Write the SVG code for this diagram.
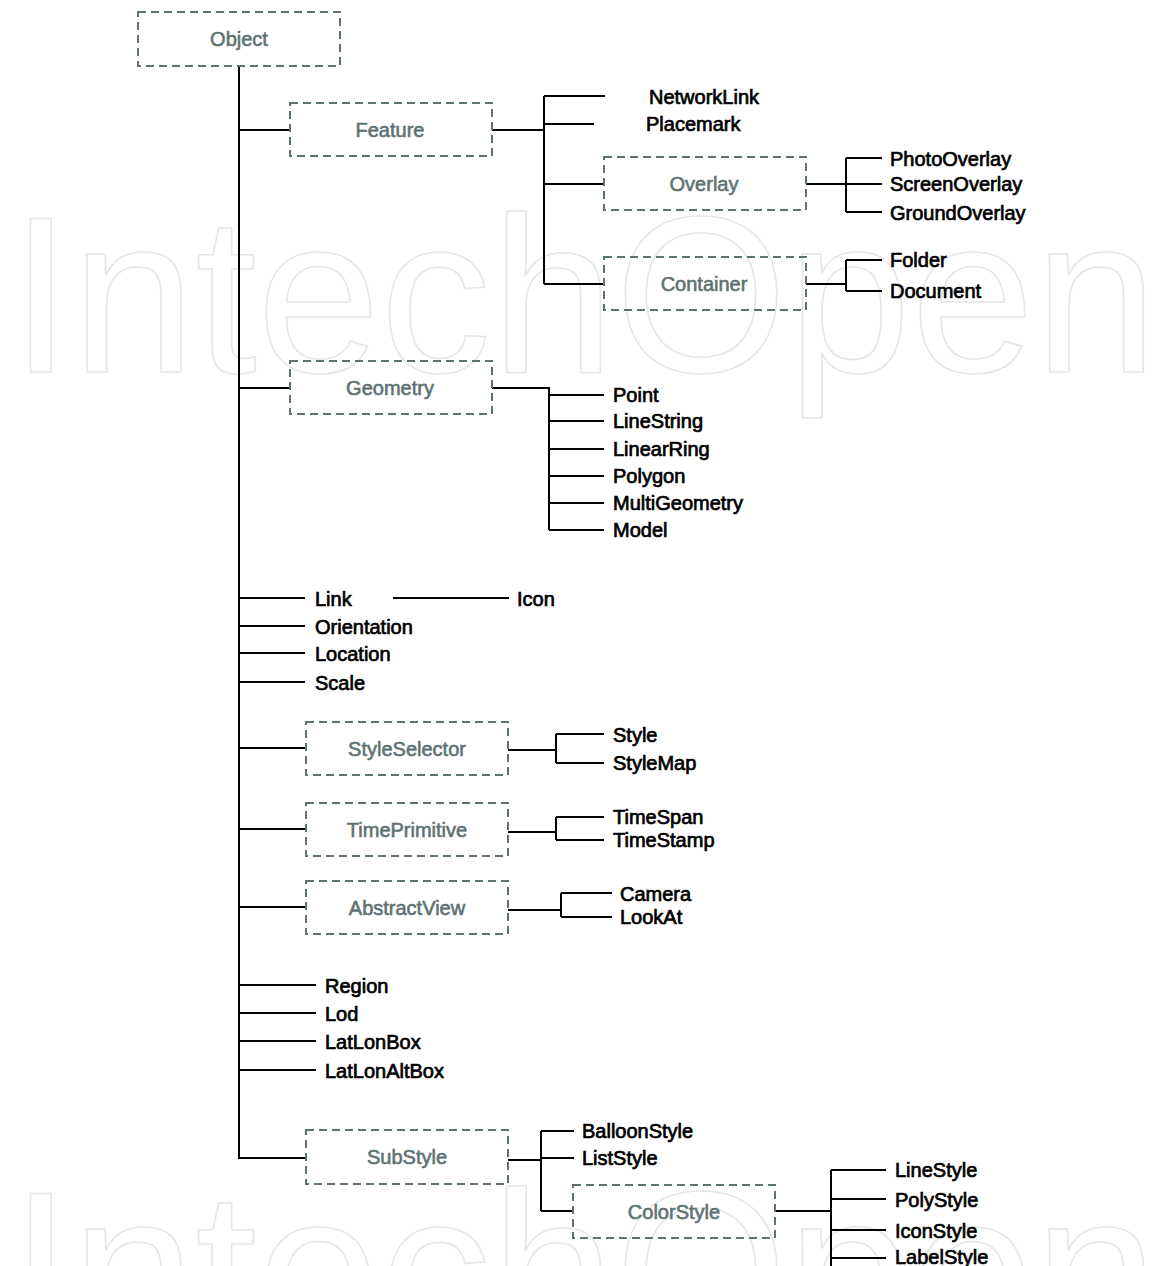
<svg xmlns="http://www.w3.org/2000/svg" width="1156" height="1266" viewBox="0 0 1156 1266">
<style>
.wm{font-family:"Liberation Sans",Arial,sans-serif;font-size:222px;fill:none;stroke:#e6e6e6;stroke-width:1.6}
.box{fill:none;stroke:#5f7272;stroke-width:2;stroke-dasharray:8 5}
.bl{font-family:"Liberation Sans",Arial,sans-serif;font-size:20px;fill:#5f7272;stroke:#5f7272;stroke-width:0.6;text-anchor:middle}
.lf{font-family:"Liberation Sans",Arial,sans-serif;font-size:20px;fill:#000;stroke:#000;stroke-width:0.7}
.c{fill:none;stroke:#000;stroke-width:2}
</style>
<rect width="1156" height="1266" fill="#fff"/>
<g id="watermark">
<text class="wm" x="10" y="372">IntechOpen</text>
<text class="wm" x="10" y="1347">IntechOpen</text>
</g>
<g id="connectors">
<path class="c" d="M239 66V1158H306"/>
<path class="c" d="M239 130H290M492 130H544M544 96V284M544 96H605M544 124H594M544 184H604M544 284H604"/>
<path class="c" d="M806 184H846M846 158V212M846 158H882M846 184H882M846 212H882"/>
<path class="c" d="M806 284H846M846 260V291M846 260H882M846 291H882"/>
<path class="c" d="M239 388H290M492 388H549V530M549 395H604M549 421H604M549 449H604M549 476H604M549 503H604M549 530H604"/>
<path class="c" d="M239 598H305M393 598H509M239 626H305M239 653H305M239 682H305"/>
<path class="c" d="M239 748H306M508 750H556M556 734V763M556 734H604M556 763H604"/>
<path class="c" d="M239 829H306M508 832H556M556 817V840M556 817H604M556 840H604"/>
<path class="c" d="M239 907H306M508 910H561M561 893V917M561 893H612M561 917H612"/>
<path class="c" d="M239 985H316M239 1013H316M239 1041H316M239 1070H316"/>
<path class="c" d="M508 1160H541M541 1131V1211M541 1131H574M541 1158H574M541 1211H573"/>
<path class="c" d="M775 1211H831M831 1170V1266M831 1170H886M831 1199H886M831 1230H886M831 1258H886"/>
</g>
<g id="Object"><rect class="box" x="138" y="12" width="202" height="54"/><text class="bl" x="239" y="46">Object</text></g>
<g id="Feature"><rect class="box" x="290" y="103" width="202" height="53"/><text class="bl" x="390" y="137">Feature</text></g>
<g id="NetworkLink"><text class="lf" x="649" y="104">NetworkLink</text></g>
<g id="Placemark"><text class="lf" x="646" y="131">Placemark</text></g>
<g id="Overlay"><rect class="box" x="604" y="157" width="202" height="53"/><text class="bl" x="704" y="191">Overlay</text></g>
<g id="Container"><rect class="box" x="604" y="257" width="202" height="53"/><text class="bl" x="704" y="291">Container</text></g>
<g id="PhotoOverlay"><text class="lf" x="890" y="166">PhotoOverlay</text></g>
<g id="ScreenOverlay"><text class="lf" x="890" y="191">ScreenOverlay</text></g>
<g id="GroundOverlay"><text class="lf" x="890" y="220">GroundOverlay</text></g>
<g id="Folder"><text class="lf" x="890" y="267">Folder</text></g>
<g id="Document"><text class="lf" x="890" y="298">Document</text></g>
<g id="Geometry"><rect class="box" x="290" y="361" width="202" height="53"/><text class="bl" x="390" y="395">Geometry</text></g>
<g id="Point"><text class="lf" x="613" y="402">Point</text></g>
<g id="LineString"><text class="lf" x="613" y="428">LineString</text></g>
<g id="LinearRing"><text class="lf" x="613" y="456">LinearRing</text></g>
<g id="Polygon"><text class="lf" x="613" y="483">Polygon</text></g>
<g id="MultiGeometry"><text class="lf" x="613" y="510">MultiGeometry</text></g>
<g id="Model"><text class="lf" x="613" y="537">Model</text></g>
<g id="Link"><text class="lf" x="315" y="606">Link</text></g>
<g id="Icon"><text class="lf" x="517" y="606">Icon</text></g>
<g id="Orientation"><text class="lf" x="315" y="634">Orientation</text></g>
<g id="Location"><text class="lf" x="315" y="661">Location</text></g>
<g id="Scale"><text class="lf" x="315" y="690">Scale</text></g>
<g id="StyleSelector"><rect class="box" x="306" y="722" width="202" height="53"/><text class="bl" x="407" y="756">StyleSelector</text></g>
<g id="Style"><text class="lf" x="613" y="742">Style</text></g>
<g id="StyleMap"><text class="lf" x="613" y="770">StyleMap</text></g>
<g id="TimePrimitive"><rect class="box" x="306" y="803" width="202" height="53"/><text class="bl" x="407" y="837">TimePrimitive</text></g>
<g id="TimeSpan"><text class="lf" x="613" y="824">TimeSpan</text></g>
<g id="TimeStamp"><text class="lf" x="613" y="847">TimeStamp</text></g>
<g id="AbstractView"><rect class="box" x="306" y="881" width="202" height="53"/><text class="bl" x="407" y="915">AbstractView</text></g>
<g id="Camera"><text class="lf" x="620" y="901">Camera</text></g>
<g id="LookAt"><text class="lf" x="620" y="924">LookAt</text></g>
<g id="Region"><text class="lf" x="325" y="993">Region</text></g>
<g id="Lod"><text class="lf" x="325" y="1021">Lod</text></g>
<g id="LatLonBox"><text class="lf" x="325" y="1049">LatLonBox</text></g>
<g id="LatLonAltBox"><text class="lf" x="325" y="1078">LatLonAltBox</text></g>
<g id="SubStyle"><rect class="box" x="306" y="1130" width="202" height="54"/><text class="bl" x="407" y="1164">SubStyle</text></g>
<g id="BalloonStyle"><text class="lf" x="582" y="1138">BalloonStyle</text></g>
<g id="ListStyle"><text class="lf" x="582" y="1165">ListStyle</text></g>
<g id="ColorStyle"><rect class="box" x="573" y="1185" width="202" height="53"/><text class="bl" x="674" y="1219">ColorStyle</text></g>
<g id="LineStyle"><text class="lf" x="895" y="1177">LineStyle</text></g>
<g id="PolyStyle"><text class="lf" x="895" y="1207">PolyStyle</text></g>
<g id="IconStyle"><text class="lf" x="895" y="1238">IconStyle</text></g>
<g id="LabelStyle"><text class="lf" x="895" y="1264">LabelStyle</text></g>
</svg>
